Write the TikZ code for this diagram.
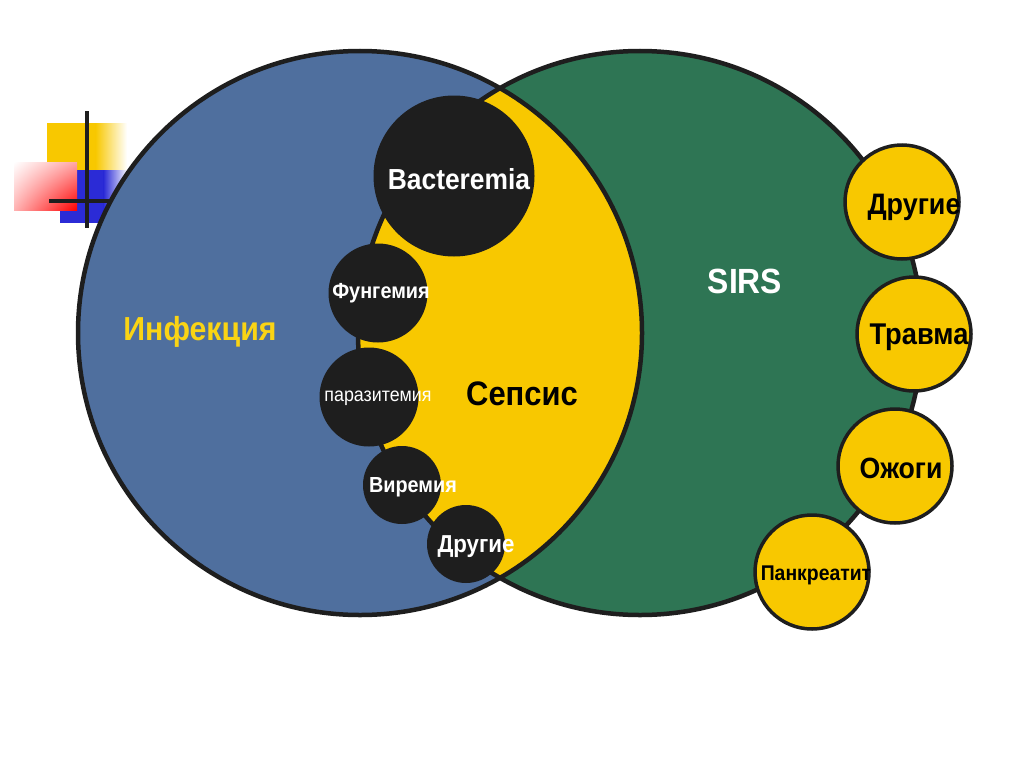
\documentclass[tikz,border=0pt]{standalone}
\usepackage{fontspec}
\setmainfont{Liberation Sans}
\newfontfamily\narrowfont[FakeStretch=0.91]{Liberation Sans}
\usepackage{tikz}
\usetikzlibrary{shadings}
\definecolor{infblue}{RGB}{79,111,158}
\definecolor{sirsgreen}{RGB}{46,117,84}
\definecolor{sepsyellow}{RGB}{248,200,0}
\definecolor{infyellow}{RGB}{250,212,20}
\definecolor{darkfill}{RGB}{30,30,30}
\definecolor{decoblue}{RGB}{43,43,214}

\begin{document}
\begin{tikzpicture}[x=1pt,y=-1pt,
    outline/.style={draw=darkfill,line width=4.5pt},
    germ/.style={shape=circle,fill=darkfill,draw=darkfill,line width=3pt,inner sep=0pt},
    cause/.style={shape=circle,fill=sepsyellow,draw=darkfill,line width=3.5pt,inner sep=0pt,minimum size=114pt},
    txt/.style={font=\narrowfont\bfseries,inner sep=0pt}]
    \useasboundingbox (0,0) rectangle (1024,768);
    \fill[white] (0,0) rectangle (1024,768);

    % corner decoration
    \fill[sepsyellow] (47,123) rectangle (96,172);
    \shade[left color=sepsyellow,right color=white] (95.5,123) rectangle (127,172);
    \fill[decoblue] (60,170) rectangle (104,223);
    \shade[left color=decoblue,right color=white] (103.5,170) rectangle (128,223);
    \shade[lower right=red,lower left=red!30,upper left=white,upper right=red!35] (14,162) rectangle (77,210);
    \draw[darkfill,line width=4pt] (87,111) -- (87,228);
    \draw[darkfill,line width=4pt] (49,201) -- (115,201);

    % the two big circles
    \fill[infblue] (360,333) circle (282);
    \fill[sirsgreen] (640,333) circle (282);
    \begin{scope}
        \clip (360,333) circle (282);
        \fill[sepsyellow] (640,333) circle (282);
    \end{scope}
    \draw[outline] (360,333) circle (282);
    \draw[outline] (640,333) circle (282);

    % infections
    \node (bact) [germ,minimum size=158pt] at (454,176) {};
    \node (fung) [germ,minimum size=96pt] at (378,293) {};
    \node (para) [germ,minimum size=96pt] at (369,397) {};
    \node (vir) [germ,minimum size=75pt] at (402,485) {};
    \node (othl) [germ,minimum size=75pt] at (466,544) {};

    % other causes of SIRS
    \node (othr) [cause] at (902,202) {};
    \node (trauma) [cause] at (914,334) {};
    \node (burns) [cause] at (895,466) {};
    \node (pancr) [cause] at (812,572) {};

    % labels
    \node (inf) [txt,text=infyellow,font=\narrowfont\bfseries\fontsize{33.3}{34}\selectfont] at (200,332) {Инфекция};
    \node (sirs) [txt,text=white,font=\narrowfont\bfseries\fontsize{35}{35}\selectfont] at (745,281) {SIRS};
    \node (seps) [txt,text=black,font=\narrowfont\bfseries\fontsize{34}{34}\selectfont] at (522,394) {Сепсис};
    \node (bacttxt) [txt,text=white,font=\narrowfont\bfseries\fontsize{29}{29}\selectfont] at (459,179) {Bacteremia};
    \node (fungtxt) [txt,text=white,font=\narrowfont\bfseries\fontsize{21.8}{22}\selectfont] at (381,293) {Фунгемия};
    \node (paratxt) [txt,text=white,font=\narrowfont\fontsize{19.6}{20}\selectfont] at (378,398) {паразитемия};
    \node (virtxt) [txt,text=white,font=\narrowfont\bfseries\fontsize{21.8}{22}\selectfont] at (413,487) {Виремия};
    \node (othltxt) [txt,text=white,font=\narrowfont\bfseries\fontsize{24.5}{25}\selectfont] at (476,547) {Другие};
    \node (othrtxt) [txt,text=black,font=\narrowfont\bfseries\fontsize{29.6}{30}\selectfont] at (914,207) {Другие};
    \node (traumatxt) [txt,text=black,font=\narrowfont\bfseries\fontsize{30}{30}\selectfont] at (919,337) {Травма};
    \node (burnstxt) [txt,text=black,font=\narrowfont\bfseries\fontsize{29.3}{30}\selectfont] at (901,468) {Ожоги};
    \node (pancrtxt) [txt,text=black,font=\narrowfont\bfseries\fontsize{21.3}{22}\selectfont] at (816,575) {Панкреатит};
\end{tikzpicture}
\end{document}
